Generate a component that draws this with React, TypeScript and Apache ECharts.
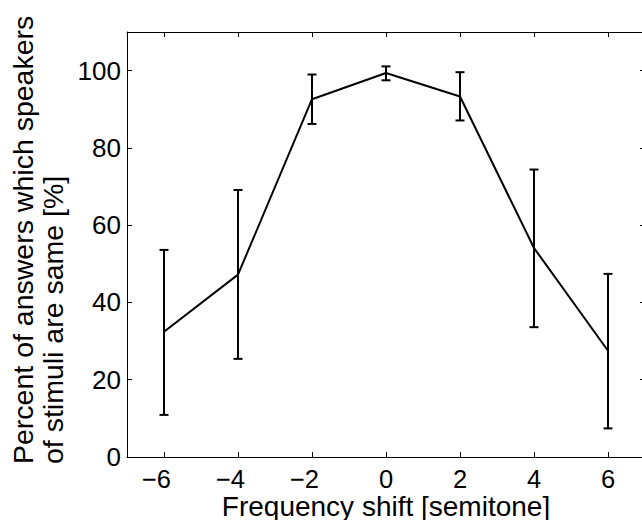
import React, { useEffect, useRef } from "react";
import * as echarts from "echarts";

const shifts = [-6, -4, -2, 0, 2, 4, 6];
const means = [32.4, 47.2, 92.6, 99.4, 93.3, 54.1, 27.5];
const lows = [10.9, 25.4, 86.2, 97.5, 87.1, 33.6, 7.4];
const highs = [53.6, 69.1, 99.0, 101.1, 99.6, 74.4, 47.4];
const xTicks = [-6, -4, -2, 0, 2, 4, 6];
const yTicks = [0, 20, 40, 60, 80, 100];
const xTitle = "Frequency shift [semitone]";
const yTitleLines = ["Percent of answers which speakers", "of stimuli are same [%]"];

const FONT = "'Liberation Sans', Arial, Helvetica, sans-serif";

export default function App() {
  const ref = useRef<HTMLDivElement>(null);
  useEffect(() => {
    if (!ref.current) return;
    const chart = echarts.init(ref.current, null, { renderer: "svg" });
    const lineData = shifts.map((s, i) => [s, means[i]]);
    const errData = shifts.map((s, i) => [s, lows[i], highs[i]]);
    const axisLineStyle = { color: "#000", width: 1 };
    const tickStyle = { color: "#000", width: 1 };
    chart.setOption({
      animation: false,
      backgroundColor: "#fff",
      textStyle: { fontFamily: FONT },
      grid: {
        left: 127,
        top: 32,
        right: -3,
        bottom: 63,
        containLabel: false,
        outerBoundsMode: "none",
      },
      xAxis: [
        {
          type: "value",
          min: -7,
          max: 7,
          position: "bottom",
          axisLine: { show: true, onZero: false, lineStyle: axisLineStyle },
          axisTick: { show: true, inside: true, length: 5, lineStyle: tickStyle, customValues: xTicks },
          splitLine: { show: false },
          axisLabel: {
            show: true,
            margin: 13,
            customValues: xTicks,
            formatter: (v: number) => (v < 0 ? `{n|\u2212${-v}}{p| }` : `{n|${v}}`),
            rich: {
              n: { fontSize: 25.5, lineHeight: 18, fontFamily: FONT, color: "#000" },
              p: { width: 15, fontSize: 25.5, lineHeight: 18, fontFamily: FONT },
            },
          },
        },
        {
          type: "value",
          min: -7,
          max: 7,
          position: "top",
          axisLine: { show: true, onZero: false, lineStyle: axisLineStyle },
          axisTick: { show: true, inside: true, length: 5, lineStyle: tickStyle, customValues: xTicks },
          splitLine: { show: false },
          axisLabel: { show: false },
        },
      ],
      yAxis: [
        {
          type: "value",
          min: 0,
          max: 110,
          position: "left",
          axisLine: { show: true, onZero: false, lineStyle: axisLineStyle },
          axisTick: { show: true, inside: true, length: 5, lineStyle: tickStyle, customValues: yTicks },
          splitLine: { show: false },
          axisLabel: {
            show: true,
            margin: 6,
            customValues: yTicks,
            fontSize: 26,
            lineHeight: 20,
            fontFamily: FONT,
            color: "#000",
          },
        },
        {
          type: "value",
          min: 0,
          max: 110,
          position: "right",
          axisLine: { show: true, onZero: false, lineStyle: axisLineStyle },
          axisTick: { show: true, inside: true, length: 5, lineStyle: tickStyle, customValues: yTicks },
          splitLine: { show: false },
          axisLabel: { show: false },
        },
      ],
      graphic: [
        {
          type: "text",
          x: 38,
          y: 464,
          rotation: Math.PI / 2,
          style: {
            text: yTitleLines.join("\n"),
            fontSize: 28.5,
            fontFamily: FONT,
            fill: "#000",
            lineHeight: 30,
            align: "left",
            verticalAlign: "middle",
          },
        },
        {
          type: "text",
          x: 386,
          y: 506,
          style: {
            text: xTitle,
            fontSize: 28,
            lineHeight: 22,
            fontFamily: FONT,
            fill: "#000",
            align: "center",
            verticalAlign: "middle",
          },
        },
      ],
      series: [
        {
          type: "line",
          data: lineData,
          xAxisIndex: 0,
          yAxisIndex: 0,
          showSymbol: false,
          symbol: "none",
          lineStyle: { color: "#000", width: 2 },
          z: 3,
        },
        {
          type: "custom",
          xAxisIndex: 0,
          yAxisIndex: 0,
          data: errData,
          encode: { x: 0, y: [1, 2] },
          z: 4,
          renderItem: (_params: any, api: any) => {
            const x = api.value(0);
            const lo = api.coord([x, api.value(1)]);
            const hi = api.coord([x, api.value(2)]);
            const cap = 4.5;
            const style = { stroke: "#000", lineWidth: 2 };
            return {
              type: "group",
              children: [
                { type: "line", shape: { x1: lo[0], y1: lo[1], x2: hi[0], y2: hi[1] }, style },
                { type: "line", shape: { x1: lo[0] - cap, y1: lo[1], x2: lo[0] + cap, y2: lo[1] }, style },
                { type: "line", shape: { x1: hi[0] - cap, y1: hi[1], x2: hi[0] + cap, y2: hi[1] }, style },
              ],
            };
          },
        },
      ],
    });
    return () => chart.dispose();
  }, []);
  return (
    <div
      ref={ref}
      style={{ position: "fixed", left: 0, top: 0, width: 642, height: 520, background: "#fff" }}
    />
  );
}
